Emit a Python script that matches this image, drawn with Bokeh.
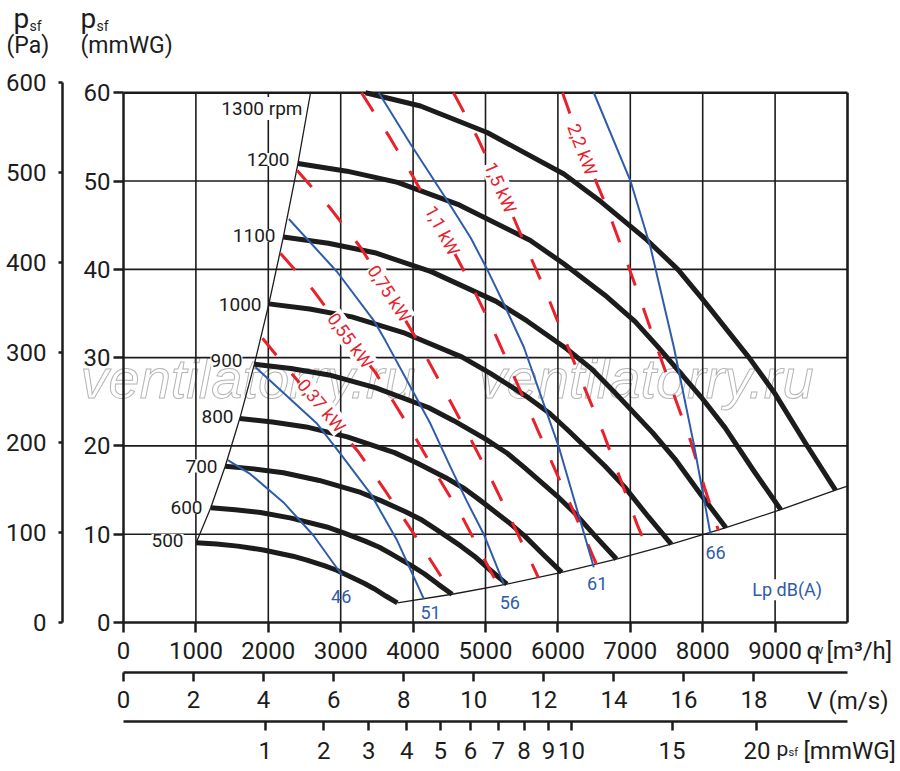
import math
from bokeh.plotting import figure
from bokeh.models import LinearAxis, Range1d, FixedTicker, Label
from bokeh.embed import file_html
from bokeh.resources import INLINE

# ---------------- data ----------------
QV_TICKS = [0, 1000, 2000, 3000, 4000, 5000, 6000, 7000, 8000, 9000]
MMWG_TICKS = [0, 10, 20, 30, 40, 50, 60]
PA_TICKS = [0, 100, 200, 300, 400, 500, 600]
V_TICKS = [0, 2, 4, 6, 8, 10, 12, 14, 16, 18]
PSF_TICKS = [1, 2, 3, 4, 5, 6, 7, 8, 9, 10, 15, 20]
GRID_QV = [1000, 2000, 3000, 4000, 5000, 6000, 7000, 8000, 9000]
GRID_P = [10, 20, 30, 40, 50]

RPM_LABELS = ["500", "600", "700", "800", "900", "1000", "1100", "1200", "1300 rpm"]

# fan curves (qv m3/h, psf mmWG)
Q500 = [1004, 1286, 1578, 1932, 2339, 2534, 2782, 2945, 3077, 3323, 3462, 3623, 3782]
P500 = [9.02, 8.88, 8.65, 8.21, 7.51, 7.06, 6.41, 5.92, 5.41, 4.44, 3.83, 3.00, 2.22]
Q600 = [1205, 1543, 1893, 2318, 2807, 3041, 3338, 3534, 3692, 3988, 4154, 4348, 4539]
P600 = [12.99, 12.78, 12.46, 11.82, 10.82, 10.16, 9.22, 8.52, 7.80, 6.39, 5.52, 4.32, 3.20]
Q700 = [1405, 1800, 2209, 2705, 3275, 3547, 3895, 4123, 4308, 4652, 4846, 5072, 5295]
P700 = [17.69, 17.40, 16.96, 16.09, 14.73, 13.83, 12.55, 11.60, 10.61, 8.70, 7.51, 5.89, 4.35]
Q800 = [1606, 2057, 2524, 3091, 3743, 4054, 4451, 4711, 4923, 5317, 5539, 5797, 6052]
P800 = [23.10, 22.72, 22.15, 21.02, 19.24, 18.06, 16.40, 15.15, 13.86, 11.36, 9.81, 7.69, 5.68]
Q900 = [1807, 2314, 2840, 3477, 4211, 4561, 5008, 5300, 5539, 5982, 6231, 6522, 6808]
P900 = [29.24, 28.76, 28.04, 26.60, 24.35, 22.86, 20.75, 19.17, 17.54, 14.38, 12.41, 9.73, 7.19]
Q1000 = [2008, 2572, 3155, 3864, 4678, 5068, 5564, 5889, 6154, 6646, 6923, 7246, 7565]
P1000 = [36.09, 35.50, 34.62, 32.84, 30.06, 28.22, 25.62, 23.67, 21.66, 17.75, 15.33, 12.01, 8.88]
Q1100 = [2208, 2829, 3471, 4250, 5146, 5574, 6120, 6478, 6769, 7311, 7615, 7971, 8321]
P1100 = [43.67, 42.96, 41.88, 39.74, 36.37, 34.15, 31.00, 28.64, 26.20, 21.48, 18.54, 14.53, 10.74]
Q1200 = [2409, 3086, 3786, 4637, 5614, 6081, 6677, 7067, 7385, 7975, 8308, 8695, 9078]
P1200 = [51.98, 51.12, 49.85, 47.29, 43.29, 40.64, 36.89, 34.08, 31.19, 25.56, 22.07, 17.30, 12.78]
Q1300 = [3343, 4102, 5023, 6082, 6588, 7233, 7656, 8000, 8640, 9000, 9420, 9834]
P1300 = [60.0, 58.5, 55.5, 50.8, 47.7, 43.3, 40.0, 36.6, 30.0, 25.9, 20.3, 15.0]

# operating-range boundaries
LEFT_Q = [1004, 1205, 1405, 1606, 1807, 2008, 2208, 2409, 2583]
LEFT_P = [9.02, 12.99, 17.69, 23.10, 29.24, 36.09, 43.67, 51.98, 60.0]
LOW_Q = [3782, 4539, 5295, 6052, 6808, 7565, 8321, 9078, 9834, 10000]
LOW_P = [2.22, 3.20, 4.35, 5.68, 7.19, 8.88, 10.74, 12.78, 15.0, 15.45]

# sound level lines Lp dB(A)
DB_LABELS = ["46", "51", "56", "61", "66"]
L46_Q = [1441, 1754, 2210, 2624, 3021]
L46_P = [18.4, 16.8, 13.6, 9.85, 5.32]
L51_Q = [1823, 2675, 2997, 3412, 3780, 4148]
L51_P = [28.9, 22.5, 19.1, 14.6, 9.28, 2.68]
L56_Q = [2284, 2952, 3457, 3619, 4240, 4517, 4738, 4976, 5253]
L56_P = [45.7, 39.7, 34.2, 31.9, 22.5, 17.6, 13.8, 10.0, 4.38]
L61_Q = [3526, 3964, 4471, 4793, 5023, 5253, 5529, 6012, 6496]
L61_P = [60.0, 54.2, 47.8, 43.6, 40.0, 36.1, 31.2, 19.9, 6.26]
L66_Q = [6496, 7003, 7279, 7601, 7877, 8108]
L66_P = [60.0, 50.0, 42.5, 31.2, 20.2, 10.0]

# shaft power lines
KW_LABELS = ["0,37 kW", "0,55 kW", "0,75 kW", "1,1 kW", "1,5 kW", "2,2 kW"]
R037_Q = [1920, 2127, 2693, 3246, 3633, 4006, 4378, 4530]
R037_P = [32.2, 30.1, 24.6, 19.3, 14.7, 10.1, 5.32, 3.17]
R055_Q = [2169, 2624, 3135, 3481, 3992, 4337, 4682, 5000, 5180]
R055_P = [41.8, 37.6, 31.9, 28.3, 21.5, 16.6, 11.9, 6.91, 4.13]
R075_Q = [2399, 2849, 3273, 3674, 4061, 4471, 4793, 5106, 5401, 5732]
R075_P = [51.2, 47.0, 42.5, 37.3, 31.9, 25.7, 20.8, 15.8, 10.8, 5.07]
R11_Q = [3287, 3674, 4006, 4406, 4807, 5110, 5387, 5663, 5939, 6215, 6533]
R11_P = [60.0, 55.0, 50.4, 44.4, 38.2, 33.1, 28.0, 22.9, 17.7, 12.6, 6.59]
R15_Q = [4558, 4890, 5207, 5580, 5856, 6105, 6367, 6630, 6865, 7099, 7251]
R15_P = [60.0, 54.9, 49.3, 42.2, 37.0, 31.9, 26.6, 21.4, 16.2, 11.0, 8.11]
R22_Q = [6064, 6340, 6657, 6920, 7155, 7348, 7597, 7831, 8025, 8218]
R22_P = [60.0, 53.6, 47.4, 41.6, 36.2, 31.6, 25.9, 20.6, 15.3, 10.4]

# ---------------- figure ----------------
FONT = "Roboto"
INK = "#1c1c1c"
RED = "#e8222c"
BLUE = "#2f5caa"
QV_PER_MS = 483.8          # m3/h per m/s (duct velocity scale)
PA_PER_MM = 9.81

W, H = 898, 769
QV_PER_PX = 13.812         # horizontal scale
PX_PER_MM = 8.8291         # vertical scale
X0_PX, Y0_PX = 123, 622    # page position of qv=0, psf=0
x_start = -X0_PX * QV_PER_PX
x_end = (W - X0_PX) * QV_PER_PX
y_end = Y0_PX / PX_PER_MM
y_start = -(H - Y0_PX) / PX_PER_MM

p = figure(width=W, height=H, x_range=Range1d(x_start, x_end), y_range=Range1d(y_start, y_end),
           x_axis_type=None, y_axis_type=None, output_backend="svg", toolbar_location=None,
           min_border_left=0, min_border_right=0, min_border_top=0, min_border_bottom=0)
p.outline_line_color = None
p.extra_y_ranges = {"pa": Range1d(y_start * PA_PER_MM, y_end * PA_PER_MM)}
p.extra_x_ranges = {"v": Range1d(x_start / QV_PER_MS, x_end / QV_PER_MS)}


def style_axis(ax, size="24px", tick_out=10, standoff=3, lw=2.5):
    ax.axis_line_width = lw
    ax.axis_line_color = INK
    ax.major_tick_line_width = lw
    ax.major_tick_line_color = INK
    ax.major_tick_in = 0
    ax.major_tick_out = tick_out
    ax.minor_tick_in = 0
    ax.minor_tick_out = 0
    ax.major_label_standoff = standoff
    ax.major_label_text_font = FONT
    ax.major_label_text_font_size = size
    ax.major_label_text_color = INK
    return ax


def px_to_q(px):
    return (px - X0_PX) * QV_PER_PX


def py_to_p(py):
    return (Y0_PX - py) / PX_PER_MM


# left axes
ax_mm = style_axis(LinearAxis(ticker=FixedTicker(ticks=MMWG_TICKS), bounds=(0, 60), fixed_location=0),
                   tick_out=10, standoff=3)
p.add_layout(ax_mm, "left")
ax_pa = style_axis(LinearAxis(y_range_name="pa", ticker=FixedTicker(ticks=PA_TICKS), bounds=(0, 600),
                              fixed_location=px_to_q(62)),
                   tick_out=4, standoff=12)
p.add_layout(ax_pa, "left")

# bottom axes
ax_q = style_axis(LinearAxis(ticker=FixedTicker(ticks=QV_TICKS), bounds=(0, 10000), fixed_location=0),
                  tick_out=10, standoff=9)
p.add_layout(ax_q, "below")
V_END = 10000 / QV_PER_MS
ax_v = style_axis(LinearAxis(x_range_name="v", ticker=FixedTicker(ticks=V_TICKS), bounds=(0, V_END),
                             fixed_location=py_to_p(672)),
                  tick_out=9, standoff=9)
p.add_layout(ax_v, "below")
psf_pos = [round(math.sqrt(2 * PA_PER_MM * v / 1.2), 4) for v in PSF_TICKS]
ax_psf = style_axis(LinearAxis(x_range_name="v", ticker=FixedTicker(ticks=psf_pos), bounds=(0, V_END),
                               fixed_location=py_to_p(721)),
                    tick_out=9, standoff=11)
ax_psf.major_label_overrides = {pos: str(v) for pos, v in zip(psf_pos, PSF_TICKS)}
p.add_layout(ax_psf, "below")

# watermark
for wx in (px_to_q(80), px_to_q(478)):
    wm = Label(x=wx, y=py_to_p(378), text="ventilatorry.ru", text_font="Liberation Sans",
               text_font_style="italic", text_font_size="56px", text_color="white",
               text_baseline="middle", text_outline_color="#b4b4b4", level="underlay")
    p.add_layout(wm)

# grid and borders
p.segment(x0=GRID_QV, y0=0, x1=GRID_QV, y1=60, line_color=INK, line_width=1.6)
p.segment(x0=0, y0=GRID_P, x1=10000, y1=GRID_P, line_color=INK, line_width=1.6)
p.segment(x0=[0, 10000], y0=[60, 0], x1=[10000, 10000], y1=[60, 60], line_color=INK, line_width=2.6)

# boundaries
p.line(LEFT_Q, LEFT_P, line_color=INK, line_width=1.3)
p.line(LOW_Q, LOW_P, line_color=INK, line_width=1.3)

# fan curves
for q, pp in [(Q500, P500), (Q600, P600), (Q700, P700), (Q800, P800), (Q900, P900),
              (Q1000, P1000), (Q1100, P1100), (Q1200, P1200), (Q1300, P1300)]:
    p.line(q, pp, line_color=INK, line_width=5, line_join="round")

# power lines
for q, pp in [(R037_Q, R037_P), (R055_Q, R055_P), (R075_Q, R075_P), (R11_Q, R11_P),
              (R15_Q, R15_P), (R22_Q, R22_P)]:
    p.line(q, pp, line_color=RED, line_width=3, line_dash="22 24")

# sound lines
for q, pp in [(L46_Q, L46_P), (L51_Q, L51_P), (L56_Q, L56_P), (L61_Q, L61_P), (L66_Q, L66_P)]:
    p.line(q, pp, line_color=BLUE, line_width=2)


def lab(text, x, y, size, color=INK, align="left", angle=0, bg=None):
    l = Label(x=x, y=y, text=text, text_font=FONT, text_font_size=f"{size}px", text_color=color,
              text_align=align, text_baseline="middle", angle=angle, angle_units="deg",
              background_fill_color=bg)
    p.add_layout(l)


# rpm labels (right aligned at the boundary), positions in page pixels
rpm_px = [(183, 540), (202, 507), (217, 465.5), (233, 415.5), (242, 360),
          (261, 304), (275, 235), (289, 159), (302, 108)]
for t, (x, y) in zip(RPM_LABELS, rpm_px):
    lab(t, px_to_q(x), py_to_p(y), 19, align="right", bg="white")

# power labels
kw_px = [(321, 405, -50), (350, 340, -54), (389, 293, -57), (442, 230, -62),
         (500, 187, -66), (582, 149, -69.5)]
for t, (x, y, a) in zip(KW_LABELS, kw_px):
    lab(t, px_to_q(x), py_to_p(y), 18, color=RED, align="center", angle=a, bg="white")

# dB labels
db_px = [(340.7, 595.7), (430, 611.7), (509.3, 601.7), (596.7, 582.7), (715, 551.7)]
for t, (x, y) in zip(DB_LABELS, db_px):
    lab(t, px_to_q(x), py_to_p(y), 18, color=BLUE, align="center")
lab("Lp dB(A)", px_to_q(786.7), py_to_p(589.3), 18, color=BLUE, align="center", bg="white")

# header texts
lab("p", px_to_q(13), py_to_p(18), 28)
lab("sf", px_to_q(29), py_to_p(25.5), 14)
lab("(Pa)", px_to_q(6), py_to_p(45), 23)
lab("p", px_to_q(80), py_to_p(18), 28)
lab("sf", px_to_q(96), py_to_p(25.5), 14)
lab("(mmWG)", px_to_q(80), py_to_p(45), 23)

# bottom axis names
lab("q", px_to_q(806), py_to_p(650), 24)
lab("v", px_to_q(817), py_to_p(649), 12)
lab("[m\u00b3/h]", px_to_q(826), py_to_p(650), 24)
lab("V (m/s)", px_to_q(888), py_to_p(700), 24, align="right")
lab("p", px_to_q(776), py_to_p(748.5), 21)
lab("sf", px_to_q(788), py_to_p(751.5), 11)
lab("[mmWG]", px_to_q(803), py_to_p(750), 24)

open("out.html", "w").write(file_html(p, INLINE))
